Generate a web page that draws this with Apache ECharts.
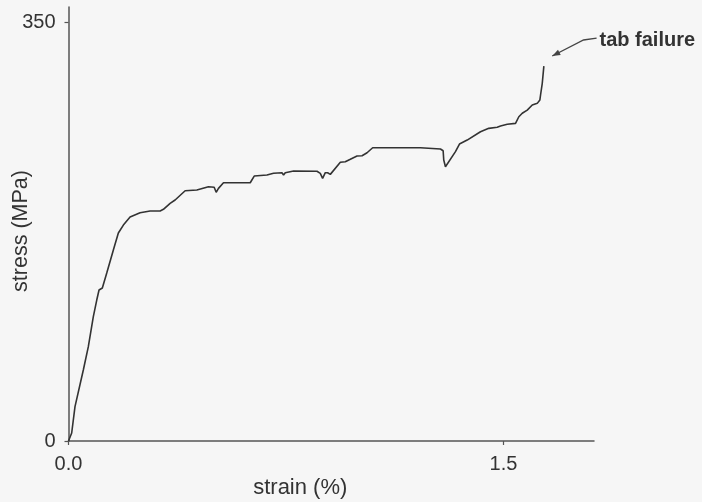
<!DOCTYPE html>
<html>
<head>
<meta charset="utf-8">
<script src="https://cdn.jsdelivr.net/npm/echarts@6/dist/echarts.min.js"></script>
<style>
html,body{margin:0;padding:0;background:#f6f6f6;}
#chart{width:702px;height:502px;}
</style>
</head>
<body>
<div id="chart"></div>
<script>
// Data
const strain = [0.0, 0.011, 0.0224, 0.0511, 0.0684, 0.0856, 0.0974, 0.1053, 0.1167, 0.1319, 0.1547, 0.1719, 0.1892, 0.2123, 0.2468, 0.2814, 0.3159, 0.3217, 0.3273, 0.3504, 0.3676, 0.4022, 0.4426, 0.4826, 0.5023, 0.5092, 0.5171, 0.5344, 0.6266, 0.6325, 0.6404, 0.6842, 0.7070, 0.7360, 0.7416, 0.7474, 0.7761, 0.8568, 0.8682, 0.8762, 0.8855, 0.8934, 0.9028, 0.9373, 0.9545, 0.9718, 0.9949, 1.0122, 1.0295, 1.0488, 1.2135, 1.2825, 1.2918, 1.2939, 1.2998, 1.2998, 1.3056, 1.3343, 1.3481, 1.3747, 1.4206, 1.4492, 1.4782, 1.4896, 1.5128, 1.5414, 1.5528, 1.5646, 1.5818, 1.5991, 1.6164, 1.6253, 1.6277, 1.6336, 1.6391];
const stress = [0, 6.7, 28.7, 59.4, 78.9, 104.0, 117.9, 126.3, 128.0, 140.5, 159.7, 174.0, 180.6, 187.3, 190.9, 192.4, 192.4, 191.3, 193.8, 198.8, 201.6, 209.3, 209.9, 212.7, 212.2, 208.0, 211.3, 216.0, 216.0, 215.5, 221.6, 222.5, 223.9, 224.4, 222.5, 224.4, 225.8, 225.6, 223.9, 219.7, 224.4, 224.4, 223.0, 233.1, 233.6, 235.6, 238.4, 238.6, 241.1, 245.3, 245.3, 244.2, 242.8, 235.0, 233.6, 229.4, 228.9, 242.0, 248.4, 251.7, 258.7, 261.5, 262.4, 263.4, 264.9, 265.7, 271.2, 274.1, 276.8, 281.0, 282.4, 285.2, 289.4, 299.2, 313.6];
const xTicks = [0, 1.5];
const yTicks = [0, 350];
const annotationText = 'tab failure';
// arrow path (data coords): text end -> knee -> arrow head
const arrowStrain = [1.821, 1.776, 1.668];
const arrowStress = [337.0, 335.4, 322.0];
const annotationPos = [1.831, 334.6];

const series = strain.map((x, i) => [x, stress[i]]);
const font = 'Liberation Sans, Arial, Helvetica, sans-serif';
const axisColor = '#555';

const chart = echarts.init(document.getElementById('chart'), null, {renderer: 'canvas'});
chart.setOption({
  backgroundColor: '#f6f6f6',
  animation: false,
  grid: {left: 68.5, right: 108, top: 7, bottom: 61, containLabel: false, outerBoundsMode: 'none'},
  xAxis: {
    type: 'value', min: 0, max: 1.812,
    name: 'strain (%)', nameLocation: 'middle', nameGap: 36, nameMoveOverlap: false,
    nameTextStyle: {fontFamily: font, fontSize: 22, color: '#333', padding: [0, 62, 0, 0]},
    axisLine: {show: true, onZero: false, lineStyle: {color: axisColor, width: 1.5}},
    axisTick: {show: true, length: 4, customValues: xTicks, lineStyle: {color: axisColor, width: 1.2}},
    axisLabel: {customValues: xTicks, margin: 13, fontFamily: font, fontSize: 20, color: '#333',
      formatter: v => v.toFixed(1)},
    splitLine: {show: false}
  },
  yAxis: {
    type: 'value', min: 0, max: 363,
    name: 'stress (MPa)', nameLocation: 'middle', nameGap: 36, nameRotate: 90, nameMoveOverlap: false,
    nameTextStyle: {fontFamily: font, fontSize: 21.5, color: '#333', padding: [0, 14, 0, 0]},
    axisLine: {show: true, onZero: false, lineStyle: {color: axisColor, width: 1.5}},
    axisTick: {show: true, length: 4, customValues: yTicks, lineStyle: {color: axisColor, width: 1.2}},
    axisLabel: {customValues: yTicks, margin: 13, fontFamily: font, fontSize: 20, color: '#333'},
    splitLine: {show: false}
  },
  series: [{
    type: 'line', data: series, showSymbol: false, smooth: false,
    lineStyle: {color: '#333', width: 1.6}, clip: false
  }]
});

function drawAnnotation() {
  const pts = arrowStrain.map((x, i) => chart.convertToPixel({gridIndex: 0}, [x, arrowStress[i]]));
  const tp = chart.convertToPixel({gridIndex: 0}, annotationPos);
  const head = pts[pts.length - 1];
  const prev = pts[pts.length - 2];
  const ang = Math.atan2(head[1] - prev[1], head[0] - prev[0]);
  const L = 8, W = 3;
  const bx = head[0] - L * Math.cos(ang), by = head[1] - L * Math.sin(ang);
  const nx = -Math.sin(ang), ny = Math.cos(ang);
  chart.setOption({
    graphic: [
      {type: 'polyline', shape: {points: pts}, style: {stroke: '#444', lineWidth: 1.3, fill: null}},
      {type: 'polygon', shape: {points: [head, [bx + nx * W, by + ny * W], [bx - nx * W, by - ny * W]]},
        style: {fill: '#444'}},
      {type: 'text', x: tp[0], y: tp[1],
        style: {text: annotationText, font: 'bold 20px ' + font, fill: '#333',
          textAlign: 'left', textVerticalAlign: 'middle'}}
    ]
  });
}
drawAnnotation();
</script>
</body>
</html>
